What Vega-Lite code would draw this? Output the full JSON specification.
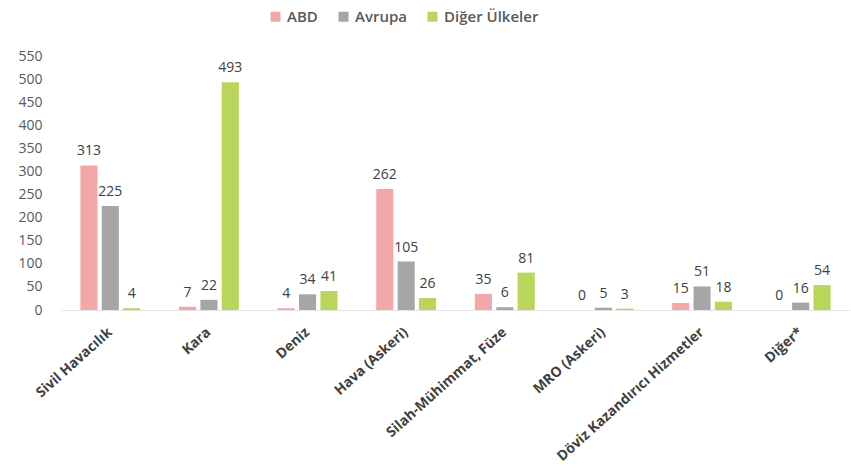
{
  "$schema": "https://vega.github.io/schema/vega-lite/v6.json",
  "width": 789,
  "height": 254,
  "autosize": {"type": "none"},
  "padding": {"left": 61, "top": 56, "right": 1, "bottom": 162},
  "background": "white",
  "config": {
    "view": {"stroke": null},
    "font": "Open Sans"
  },
  "data": {
    "values": [
      {"kategori": "Sivil Havacılık", "bolge": "ABD", "deger": 313},
      {"kategori": "Sivil Havacılık", "bolge": "Avrupa", "deger": 225},
      {"kategori": "Sivil Havacılık", "bolge": "Diğer Ülkeler", "deger": 4},
      {"kategori": "Kara", "bolge": "ABD", "deger": 7},
      {"kategori": "Kara", "bolge": "Avrupa", "deger": 22},
      {"kategori": "Kara", "bolge": "Diğer Ülkeler", "deger": 493},
      {"kategori": "Deniz", "bolge": "ABD", "deger": 4},
      {"kategori": "Deniz", "bolge": "Avrupa", "deger": 34},
      {"kategori": "Deniz", "bolge": "Diğer Ülkeler", "deger": 41},
      {"kategori": "Hava (Askeri)", "bolge": "ABD", "deger": 262},
      {"kategori": "Hava (Askeri)", "bolge": "Avrupa", "deger": 105},
      {"kategori": "Hava (Askeri)", "bolge": "Diğer Ülkeler", "deger": 26},
      {"kategori": "Silah-Mühimmat, Füze", "bolge": "ABD", "deger": 35},
      {"kategori": "Silah-Mühimmat, Füze", "bolge": "Avrupa", "deger": 6},
      {"kategori": "Silah-Mühimmat, Füze", "bolge": "Diğer Ülkeler", "deger": 81},
      {"kategori": "MRO (Askeri)", "bolge": "ABD", "deger": 0},
      {"kategori": "MRO (Askeri)", "bolge": "Avrupa", "deger": 5},
      {"kategori": "MRO (Askeri)", "bolge": "Diğer Ülkeler", "deger": 3},
      {"kategori": "Döviz Kazandırıcı Hizmetler", "bolge": "ABD", "deger": 15},
      {"kategori": "Döviz Kazandırıcı Hizmetler", "bolge": "Avrupa", "deger": 51},
      {"kategori": "Döviz Kazandırıcı Hizmetler", "bolge": "Diğer Ülkeler", "deger": 18},
      {"kategori": "Diğer*", "bolge": "ABD", "deger": 0},
      {"kategori": "Diğer*", "bolge": "Avrupa", "deger": 16},
      {"kategori": "Diğer*", "bolge": "Diğer Ülkeler", "deger": 54}
    ]
  },
  "encoding": {
    "x": {
      "field": "kategori",
      "type": "nominal",
      "sort": null,
      "scale": {"paddingInner": 0.35, "paddingOuter": 0.175},
      "axis": {
        "title": null,
        "labelAngle": -42,
        "labelAlign": "right",
        "labelBaseline": "middle",
        "labelFontSize": 14,
        "labelFontWeight": "bold",
        "labelColor": "#404040",
        "labelPadding": 20,
        "ticks": false,
        "domain": true,
        "domainColor": "#E3E3E3",
        "labelLimit": 300
      }
    },
    "xOffset": {
      "field": "bolge",
      "type": "nominal",
      "sort": ["ABD", "Avrupa", "Diğer Ülkeler"],
      "scale": {"paddingInner": 0.2, "paddingOuter": 0.1}
    },
    "y": {
      "field": "deger",
      "type": "quantitative",
      "scale": {"domain": [0, 550]},
      "axis": {
        "title": null,
        "values": [0, 50, 100, 150, 200, 250, 300, 350, 400, 450, 500, 550],
        "grid": false,
        "domain": false,
        "ticks": false,
        "labelFontSize": 14,
        "labelColor": "#595959",
        "labelPadding": 19
      }
    }
  },
  "layer": [
    {
      "mark": {"type": "bar"},
      "encoding": {
        "color": {
          "field": "bolge",
          "type": "nominal",
          "sort": ["ABD", "Avrupa", "Diğer Ülkeler"],
          "scale": {
            "domain": ["ABD", "Avrupa", "Diğer Ülkeler"],
            "range": ["#F2A7A8", "#A6A6A6", "#B9D65A"]
          },
          "legend": {
            "title": null,
            "orient": "none",
            "legendX": 207,
            "legendY": -47,
            "direction": "horizontal",
            "symbolType": "square",
            "symbolSize": 100,
            "symbolStrokeWidth": 0,
            "labelFontSize": 15,
            "labelFontWeight": 600,
            "labelColor": "#595959",
            "columnPadding": 18,
            "labelOffset": 4
          }
        }
      }
    },
    {
      "mark": {"type": "text", "baseline": "alphabetic", "dy": -10, "fontSize": 14, "color": "#404040"},
      "encoding": {
        "text": {"field": "deger", "type": "quantitative"}
      }
    }
  ]
}
